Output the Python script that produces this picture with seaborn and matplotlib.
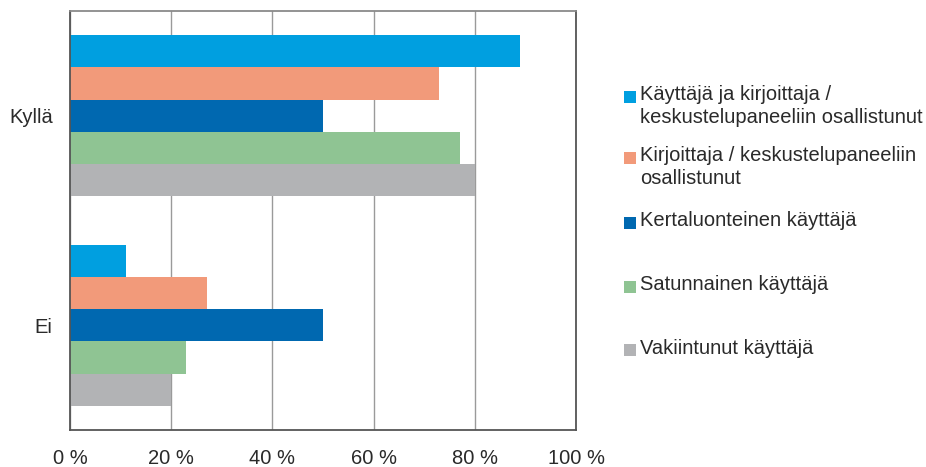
import matplotlib
matplotlib.use("Agg")
import matplotlib.pyplot as plt
import matplotlib.patches as mpatches
import seaborn as sns
import pandas as pd

# ---------------------------------------------------------------------------
# Data (percent)
# ---------------------------------------------------------------------------
categories = ["Kyllä", "Ei"]
series = [
    "Käyttäjä ja kirjoittaja /\nkeskustelupaneeliin osallistunut",
    "Kirjoittaja / keskustelupaneeliin\nosallistunut",
    "Kertaluonteinen käyttäjä",
    "Satunnainen käyttäjä",
    "Vakiintunut käyttäjä",
]
kylla_values = [89, 73, 50, 77, 80]
ei_values = [11, 27, 50, 23, 20]
x_ticks = [0, 20, 40, 60, 80, 100]
x_tick_labels = ["0 %", "20 %", "40 %", "60 %", "80 %", "100 %"]

COLORS = ["#009FE0", "#F29A7A", "#0068B0", "#8FC493", "#B2B3B5"]
TEXT_COLOR = "#2a2a2a"

rows = []
for name, vk, ve in zip(series, kylla_values, ei_values):
    rows.append({"cat": categories[0], "series": name, "value": vk})
    rows.append({"cat": categories[1], "series": name, "value": ve})
df = pd.DataFrame(rows)

sns.set_theme(style="white")
plt.rcParams["font.family"] = ["Liberation Sans", "DejaVu Sans"]

fig = plt.figure(figsize=(9.26, 4.67), dpi=100)
ax = fig.add_axes([70 / 926, 1 - 430 / 467, (576 - 70) / 926, (430 - 11) / 467])

sns.barplot(
    data=df, y="cat", x="value", hue="series", order=categories,
    hue_order=series, palette=COLORS, orient="h", width=0.77,
    saturation=1, edgecolor="none", linewidth=0, legend=False, ax=ax,
)

ax.set_xlim(0, 100)
ax.set_ylim(1.5, -0.5)
ax.set_xticks(x_ticks)
ax.set_xticklabels(x_tick_labels)
ax.set_xlabel("")
ax.set_ylabel("")
ax.grid(axis="x", color="#9a9a9a", linewidth=1.0)
ax.set_axisbelow(True)
ax.tick_params(axis="both", length=0, labelsize=14.5, colors=TEXT_COLOR)
ax.tick_params(axis="x", pad=14)
ax.tick_params(axis="y", pad=12.5)

for side in ["left", "bottom", "right"]:
    ax.spines[side].set_color("#555555")
    ax.spines[side].set_linewidth(1.3)
ax.spines["top"].set_color("#8a8a8a")
ax.spines["top"].set_linewidth(1.3)

# Legend drawn by hand so the swatch sits on the first text line
legend_y = [97, 158, 223, 287, 350]
for name, color, y in zip(series, COLORS, legend_y):
    fig.patches.append(mpatches.Rectangle(
        (624 / 926, 1 - (y + 6) / 467), 12 / 926, 12 / 467,
        transform=fig.transFigure, facecolor=color, edgecolor="none",
    ))
    fig.text(640 / 926, 1 - (y - 11.5) / 467, name, ha="left", va="top",
             fontsize=14.5, color=TEXT_COLOR, linespacing=1.25)

fig.savefig("out.png", dpi=100)
